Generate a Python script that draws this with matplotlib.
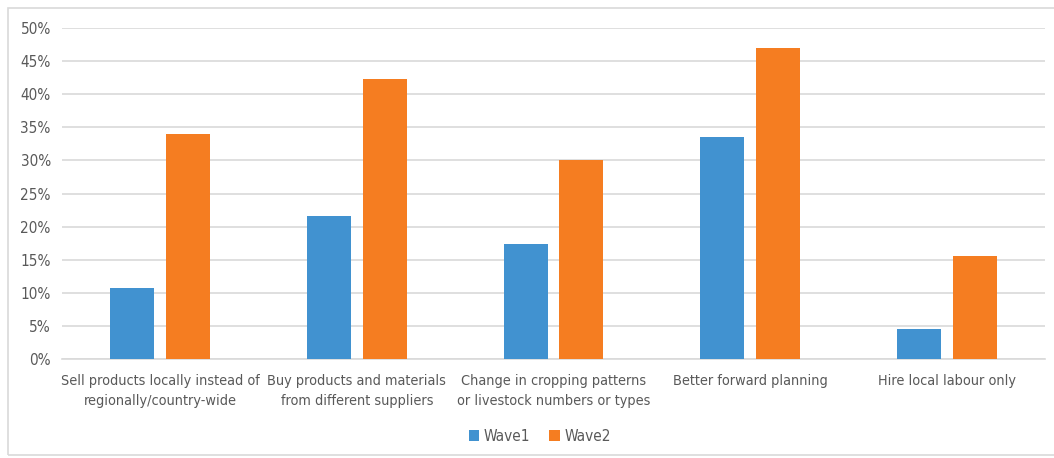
import matplotlib.pyplot as plt
import matplotlib.patches as patches
import numpy as np
from matplotlib.ticker import PercentFormatter

categories = ['Sell products locally instead of\nregionally/country-wide',
              'Buy products and materials\nfrom different suppliers',
              'Change in cropping patterns\nor livestock numbers or types',
              'Better forward planning',
              'Hire local labour only']
wave1 = [10.7, 21.6, 17.4, 33.5, 4.5]
wave2 = [34.0, 42.3, 30.0, 47.0, 15.5]
yticks = [0, 5, 10, 15, 20, 25, 30, 35, 40, 45, 50]

blue = '#4192D0'
orange = '#F57D21'
grey_text = '#595959'

plt.rcParams['font.family'] = ['DejaVu Sans']
plt.rcParams['font.stretch'] = 'condensed'

fig = plt.figure(figsize=(10.54, 4.58), dpi=100)
ax = fig.add_axes([0.0588, 0.216, 0.9327, 0.723])

# light frame round the whole chart, like the Excel chart area
fig.patches.append(patches.Rectangle((8 / 1054, 3 / 458), 1.0, 447 / 458,
                                     transform=fig.transFigure, fill=False,
                                     edgecolor='#D9D9D9', linewidth=1.2))

x = np.arange(len(categories))
width = 0.224
offset = 0.142
ax.bar(x - offset, wave1, width, color=blue, label='Wave1', zorder=3)
ax.bar(x + offset, wave2, width, color=orange, label='Wave2', zorder=3)

ax.set_xlim(-0.5, len(categories) - 0.5)
ax.set_ylim(0, 50)
ax.set_yticks(yticks)
ax.yaxis.set_major_formatter(PercentFormatter(decimals=0))
ax.grid(axis='y', color='#D9D9D9', linewidth=1.2, zorder=0)

for side in ['top', 'right', 'left']:
    ax.spines[side].set_visible(False)
ax.spines['bottom'].set_color('#D9D9D9')
ax.spines['bottom'].set_linewidth(1.2)

ax.set_xticks(x)
ax.set_xticklabels(categories, fontsize=10.4, color=grey_text, linespacing=1.55)
ax.tick_params(axis='x', length=0, pad=11)
ax.tick_params(axis='y', length=0, labelsize=11, labelcolor=grey_text, pad=8)

fig.legend(loc='center', bbox_to_anchor=(0.512, 0.048), ncol=2, frameon=False,
           fontsize=11, handlelength=0.7, handleheight=0.7, handletextpad=0.3,
           columnspacing=1.2, labelcolor=grey_text)

plt.savefig('out.png', dpi=100)
